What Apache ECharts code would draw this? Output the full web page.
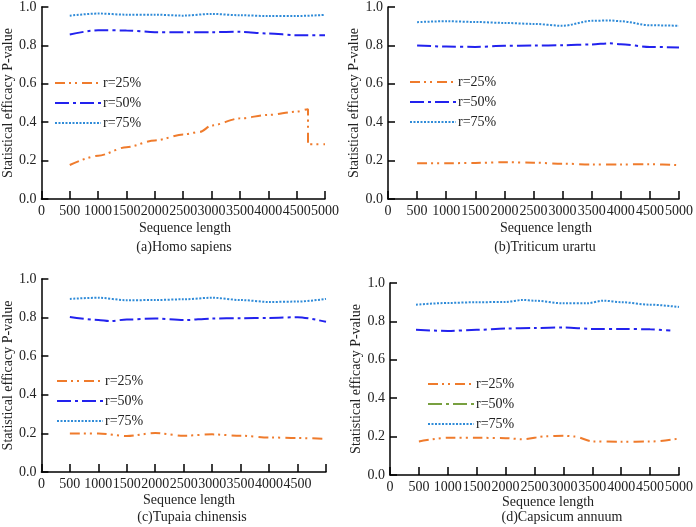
<!DOCTYPE html>
<html>
<head>
<meta charset="utf-8">
<script src="https://cdn.jsdelivr.net/npm/echarts@6/dist/echarts.min.js"></script>
<style>html,body{margin:0;padding:0;background:#fff}#c{width:696px;height:527px}</style>
</head>
<body>
<div id="c"></div>
<script>
// ---------- data ----------
const seriesNames = ['r=25%', 'r=50%', 'r=75%'];
const xTicks = [500, 1000, 1500, 2000, 2500, 3000, 3500, 4000, 4500, 5000];
const panelCaptions = ['(a)Homo sapiens', '(b)Triticum urartu', '(c)Tupaia chinensis', '(d)Capsicum annuum'];
const xAxisTitle = 'Sequence length';
const yAxisTitle = 'Statistical efficacy P-value';

// (a) Homo sapiens
const a25X = [500, 1000, 1500, 2000, 2500, 2800, 3000, 3500, 4000, 4500, 4700, 4700, 5000];
const a25Y = [0.177, 0.225, 0.27, 0.305, 0.336, 0.35, 0.383, 0.42, 0.438, 0.455, 0.468, 0.285, 0.285];
const a50X = xTicks;
const a50Y = [0.857, 0.879, 0.878, 0.869, 0.869, 0.869, 0.871, 0.862, 0.853, 0.853];
const a75X = xTicks;
const a75Y = [0.955, 0.966, 0.96, 0.96, 0.955, 0.964, 0.957, 0.953, 0.953, 0.959];

// (b) Triticum urartu
const b25X = xTicks;
const b25Y = [0.186, 0.186, 0.188, 0.192, 0.189, 0.184, 0.18, 0.18, 0.181, 0.176];
const b50X = [500, 1000, 1500, 2000, 2500, 3000, 3500, 3800, 4000, 4500, 5000];
const b50Y = [0.8, 0.794, 0.792, 0.798, 0.799, 0.801, 0.805, 0.811, 0.806, 0.792, 0.789];
const b75X = [500, 1000, 1500, 2000, 2500, 3000, 3500, 3800, 4000, 4500, 5000];
const b75Y = [0.921, 0.926, 0.922, 0.917, 0.912, 0.902, 0.928, 0.93, 0.926, 0.905, 0.902];

// (c) Tupaia chinensis
const c25X = xTicks;
const c25Y = [0.2, 0.2, 0.186, 0.202, 0.188, 0.195, 0.188, 0.179, 0.176, 0.172];
const c50X = [500, 1000, 1200, 1500, 2000, 2500, 3000, 3500, 4000, 4500, 5000];
const c50Y = [0.803, 0.788, 0.782, 0.79, 0.795, 0.787, 0.795, 0.797, 0.798, 0.802, 0.778];
const c75X = xTicks;
const c75Y = [0.897, 0.903, 0.89, 0.891, 0.895, 0.903, 0.891, 0.881, 0.883, 0.897];

// (d) Capsicum annuum
const d25X = [500, 1000, 1500, 2000, 2300, 2700, 3000, 3200, 3500, 4000, 4500, 5000];
const d25Y = [0.175, 0.194, 0.194, 0.192, 0.186, 0.202, 0.205, 0.2, 0.175, 0.173, 0.174, 0.19];
const d50X = [450, 1000, 1500, 2000, 2500, 3000, 3500, 4000, 4500, 4850];
const d50Y = [0.757, 0.75, 0.756, 0.763, 0.766, 0.768, 0.761, 0.761, 0.759, 0.752];
const d75X = [450, 1000, 1500, 2000, 2300, 2500, 3000, 3400, 3700, 4000, 4500, 5000];
const d75Y = [0.887, 0.896, 0.9, 0.901, 0.912, 0.908, 0.894, 0.894, 0.908, 0.9, 0.887, 0.875];

const panels = [
  [[a25X, a25Y], [a50X, a50Y], [a75X, a75Y]],
  [[b25X, b25Y], [b50X, b50Y], [b75X, b75Y]],
  [[c25X, c25Y], [c50X, c50Y], [c75X, c75Y]],
  [[d25X, d25Y], [d50X, d50Y], [d75X, d75Y]]
];

// ---------- styling / layout ----------
const FONT = 'Liberation Serif';
const TXT = '#222';
const colors = ['#EF7B2C', '#2222EE', '#2F8BD8'];
const dashes = [[10, 4, 2, 4, 2, 5], [14, 4, 3, 4], [2, 1.5]];
const grids = [
  {left: 35, top: 6, width: 290, height: 193},
  {left: 388, top: 5, width: 292, height: 194},
  {left: 35, top: 279, width: 291, height: 193},
  {left: 390, top: 283, width: 289, height: 192}
];
const legendPos = [
  {left: 54, top: 76}, {left: 409, top: 75}, {left: 56, top: 374}, {left: 427, top: 377}
];
const xNamePos = [[185, 228], [546, 228], [189, 500], [548, 502]];
const captionPos = [[184, 247], [545, 247], [192, 517], [562, 517]];

const xAxes = [], yAxes = [], series = [], legends = [], graphics = [];
grids.forEach((g, i) => {
  xAxes.push({
    gridIndex: i, type: 'value', min: 0, max: 5000, interval: 500,
    axisLine: {show: true, onZero: false, lineStyle: {color: '#000', width: 1.5}},
    axisTick: {show: true, inside: true, length: 8, lineStyle: {color: '#000', width: 1.5}},
    axisLabel: {
      fontFamily: FONT, fontSize: 14, color: TXT, margin: 5,
      formatter: v => (i === 2 && v === 5000) ? '' : String(v)
    },
    splitLine: {show: false}
  });
  yAxes.push({
    gridIndex: i, type: 'value', min: 0, max: 1, interval: 0.2,
    name: yAxisTitle, nameLocation: 'middle', nameGap: 14,
    nameTextStyle: {fontFamily: FONT, fontSize: 14, color: TXT},
    axisLine: {show: true, lineStyle: {color: '#000', width: 1.5}},
    axisTick: {show: true, inside: true, length: 7, lineStyle: {color: '#000', width: 1.5}},
    axisLabel: {fontFamily: FONT, fontSize: 14, color: TXT, margin: 5, formatter: v => v.toFixed(1)},
    splitLine: {show: false}
  });
  panels[i].forEach((s, k) => {
    series.push({
      name: seriesNames[k], type: 'line', xAxisIndex: i, yAxisIndex: i,
      data: s[0].map((x, j) => [x, s[1][j]]),
      symbol: 'none', smooth: 0.3, smoothMonotone: 'x',
      lineStyle: {color: colors[k], width: 2, type: dashes[k]},
      itemStyle: {color: colors[k]}
    });
  });
  const ldata = seriesNames.map((n, k) => {
    if (i === 3 && k === 1) {
      return {name: n, lineStyle: {color: '#78A040', type: dashes[1], width: 2}};
    }
    return {name: n};
  });
  legends.push({
    data: ldata, orient: 'vertical', left: legendPos[i].left, top: legendPos[i].top,
    itemWidth: 46, itemHeight: 14, itemGap: 6, padding: 0,
    itemStyle: {opacity: 0},
    textStyle: {fontFamily: FONT, fontSize: 14, color: TXT, padding: [0, 0, 0, -3]},
    selectedMode: false
  });
  graphics.push({
    type: 'text', x: xNamePos[i][0], y: xNamePos[i][1],
    style: {text: xAxisTitle, textAlign: 'center', textVerticalAlign: 'middle', font: '14px "' + FONT + '"', fill: TXT}
  });
  graphics.push({
    type: 'text', x: captionPos[i][0], y: captionPos[i][1],
    style: {text: panelCaptions[i], textAlign: 'center', textVerticalAlign: 'middle', font: '14px "' + FONT + '"', fill: TXT}
  });
});

const chart = echarts.init(document.getElementById('c'), null, {renderer: 'canvas'});
chart.setOption({
  backgroundColor: '#fff',
  animation: false,
  grid: grids,
  xAxis: xAxes,
  yAxis: yAxes,
  legend: legends,
  series: series,
  graphic: graphics
});
</script>
</body>
</html>
